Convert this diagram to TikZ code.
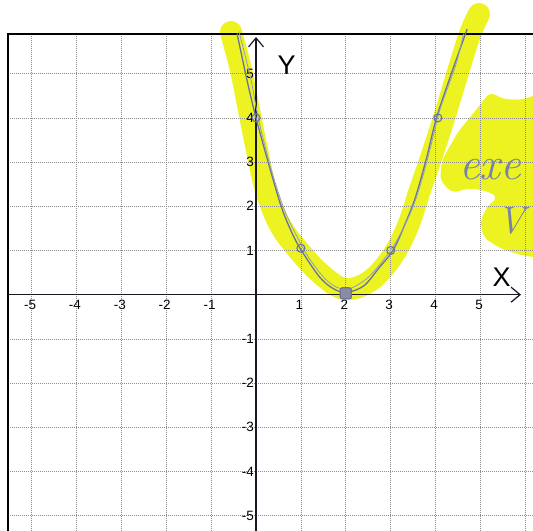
\documentclass[tikz,border=0pt]{standalone}
\usepackage{fontspec}
\newfontfamily\arialf{Liberation Sans}
\usetikzlibrary{arrows.meta}
\definecolor{hl}{RGB}{236,243,32}
\definecolor{pen}{RGB}{105,115,160}
\definecolor{gridc}{RGB}{140,140,140}
\definecolor{axisc}{RGB}{25,25,35}
\definecolor{dotfill}{RGB}{140,140,160}
\begin{document}
\begin{tikzpicture}[x=44.9pt,y=44.2pt,
  px/.style={shift={(-5.702,6.667)},x=1pt,y=-1pt},
  gridline/.style={gridc, line width=0.7pt, dash pattern=on 0.8pt off 1.2pt},
  axisline/.style={axisc, line width=1.3pt, -{Straight Barb[length=9pt,width=15pt,line width=1.2pt]}},
  ticklab/.style={font=\arialf\fontsize{13.5}{14}\selectfont, inner sep=0pt, text=black},
  axlab/.style={font=\arialf\fontsize{27}{28}\selectfont, inner sep=0pt, text=black},
  ptmark/.style={draw=pen, line width=1.1pt, circle, minimum size=8pt, inner sep=0pt},
  handtext/.style={text=pen!90, inner sep=0pt}
]
\useasboundingbox (-5.702,-5.346) rectangle (6.169,6.667);
\clip (-5.702,-5.346) rectangle (6.169,6.667);
\fill[white] (-5.702,-5.346) rectangle (6.169,6.667);

% highlighter
\begin{scope}[px]
  \draw[hl, line width=22pt, line cap=round, line join=round]
    plot[smooth, tension=0.6] coordinates {(231,32) (241,70) (249,110) (257,150) (266,190) (280,225) (300,252) (322,275) (345,289) (370,281) (392,257) (408,226) (420,190) (432,155) (445,115) (458,72) (470,34) (479,14)};
  \fill[hl, rounded corners=6pt] (442,160) -- (458,132) -- (476,110) -- (490,92) -- (503,99) -- (520,100) -- (540,94) -- (540,258) -- (520,255) -- (500,248) -- (484,238) -- (480,222) -- (488,205) -- (498,198) -- (490,192) -- (470,188) -- (452,193) -- (440,180) -- cycle;
\end{scope}

% grid
\foreach \i in {-5,...,-1,1,2,3,4,5,6} \draw[gridline] (\i,5.898) -- (\i,-5.346);
\foreach \j in {-5,...,-1,1,2,3,4,5} \draw[gridline] (-5.523,\j) -- (6.169,\j);

% border
\draw[black, line width=1.8pt] (-5.523,-5.346) -- (-5.523,5.898) -- (6.2,5.898);

% axes
\coordinate (xs) at (-5.523,0);
\coordinate (xe) at (5.902,0);
\coordinate (ys) at (0,-5.346);
\coordinate (ye) at (0,5.83);
\draw[axisline] (xs) -- (xe);
\draw[axisline] (ys) -- (ye);

% tick labels
\foreach \i in {-5,...,-1,1,2,3,4,5} \node[ticklab] (tx\i) at ([xshift=-1.5pt]\i,-0.233) {\i};
\foreach \j in {-5,...,-1,1,2,3,4,5} \node[ticklab, anchor=east] (ty\j) at ([xshift=-2pt]0,\j) {\j};
\node[axlab] (Ylab) at (0.68,5.2) {Y};
\node[axlab] (Xlab) at (5.47,0.40) {X};

% hand-drawn parabola
\draw[pen, line width=1.3pt, line cap=round, line join=round]
  plot[smooth, tension=0.55] coordinates {(-0.42,5.9) (-0.2,4.85) (0,4) (0.27,3) (0.56,2) (0.8,1.4) (1,1.02) (1.4,0.42) (1.7,0.15) (2,0.05) (2.4,0.2) (2.75,0.62) (3.05,1) (3.3,1.55) (3.55,2.2) (3.8,3.1) (4.02,4) (4.35,5) (4.7,6.0)};
\draw[pen!70, line width=0.8pt, line cap=round]
  plot[smooth, tension=0.55] coordinates {(-0.38,5.95) (-0.12,4.9) (0.06,3.95) (0.32,2.9) (0.62,1.95) (0.92,1.3) (1.2,0.8) (1.6,0.3) (2,0.12) (2.45,0.35) (2.85,0.8) (3.15,1.25) (3.5,2.0) (3.75,2.8) (3.95,3.6) (4.1,4.2) (4.45,5.2) (4.62,5.9)};

% points
\node[ptmark] (p0) at (0,4) {};
\node[ptmark] (p1) at (1,1.05) {};
\node[ptmark] (p3) at (3,1) {};
\node[ptmark] (p4) at (4.05,4) {};
\node[draw=pen, fill=dotfill, line width=1.2pt, minimum size=11pt, inner sep=0pt, rounded corners=2pt] (p2) at (2,0.03) {};

% handwritten note
\begin{scope}[px]
  \node[handtext, anchor=base west, font=\fontsize{46}{46}\selectfont\itshape] (note1) at (459,180) {exe};
  \node[handtext, anchor=base west, font=\fontsize{38}{38}\selectfont\itshape] (note2) at (497,234) {V};
\end{scope}
\end{tikzpicture}
\end{document}
